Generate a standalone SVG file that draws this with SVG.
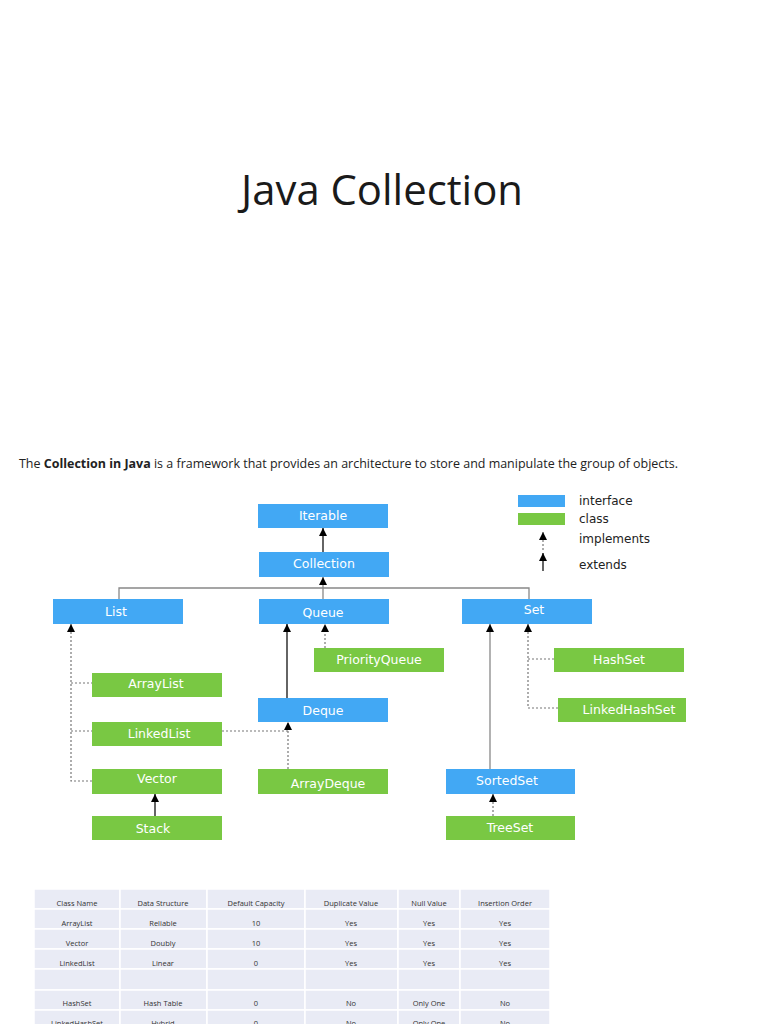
<svg xmlns="http://www.w3.org/2000/svg" width="768" height="1024" viewBox="0 0 768 1024">
<defs>
<style>
.iface{fill:#42A8F4;}
.cls{fill:#79C843;}
.nt{font-family:"DejaVu Sans",Verdana,sans-serif;font-size:12.5px;fill:#ffffff;text-anchor:middle;}
.lt{font-family:"DejaVu Sans",Verdana,sans-serif;font-size:12px;fill:#222222;}
.solid{stroke:#111111;stroke-width:1.3;fill:none;}
.gray{stroke:#888888;stroke-width:1.3;fill:none;}
.dash{stroke:#777777;stroke-width:1.2;stroke-dasharray:2,2;fill:none;}
.td{font-family:"Open Sans","Liberation Sans",sans-serif;font-size:7.5px;fill:#333333;text-anchor:middle;}
.cell{fill:#E9EBF5;stroke:#ffffff;stroke-width:1.5;}
</style>
<marker id="ahu" viewBox="0 0 10 10" refX="5" refY="0" markerWidth="8" markerHeight="8" markerUnits="userSpaceOnUse" orient="0">
<path d="M0,10 L5,0 L10,10 Z" fill="#000000"/>
</marker>
</defs>
<rect width="768" height="1024" fill="#ffffff"/>
<text x="382" y="205" font-family="'Open Sans','Liberation Sans',sans-serif" font-size="42" fill="#1a1a1a" text-anchor="middle" textLength="282" lengthAdjust="spacingAndGlyphs">Java Collection</text>
<text x="19" y="468" font-family="'Open Sans','Liberation Sans',sans-serif" font-size="13" fill="#222222" textLength="659" lengthAdjust="spacingAndGlyphs">The <tspan font-weight="bold">Collection in Java</tspan> is a framework that provides an architecture to store and manipulate the group of objects.</text>

<g id="legend">
<rect class="iface" x="518" y="495" width="47" height="12"/>
<rect class="cls" x="518" y="513" width="47" height="12"/>
<text class="lt" x="579" y="505">interface</text>
<text class="lt" x="579" y="523">class</text>
<text class="lt" x="579" y="543">implements</text>
<text class="lt" x="579" y="569">extends</text>
<line class="dash" x1="543" y1="550" x2="543" y2="532" stroke="#333" marker-end="url(#ahu)"/>
<line class="solid" x1="543" y1="571" x2="543" y2="553" marker-end="url(#ahu)"/>
</g>

<g id="connectors">
<line class="solid" x1="323" y1="552" x2="323" y2="528" marker-end="url(#ahu)"/>
<polyline class="gray" points="119,599 119,588 529,588 529,599"/>
<line class="gray" x1="323" y1="599" x2="323" y2="577" marker-end="url(#ahu)"/>
<line class="solid" x1="287" y1="698" x2="287" y2="624" marker-end="url(#ahu)"/>
<line class="dash" x1="325" y1="648" x2="325" y2="624" marker-end="url(#ahu)"/>
<polyline class="dash" points="92,781 71,781 71,624" marker-end="url(#ahu)"/>
<line class="dash" x1="71" y1="683" x2="92" y2="683"/>
<line class="dash" x1="71" y1="731" x2="92" y2="731"/>
<line class="dash" x1="222" y1="731" x2="288" y2="731"/>
<line class="dash" x1="288" y1="769" x2="288" y2="722" marker-end="url(#ahu)"/>
<line class="solid" x1="155" y1="816" x2="155" y2="794" marker-end="url(#ahu)"/>
<line class="gray" x1="490" y1="769" x2="490" y2="624" marker-end="url(#ahu)"/>
<polyline class="dash" points="558,708 528,708 528,624" marker-end="url(#ahu)"/>
<line class="dash" x1="528" y1="659" x2="554" y2="659"/>
<line class="dash" x1="493" y1="816" x2="493" y2="794" stroke="#333" marker-end="url(#ahu)"/>
</g>

<g id="iterable"><rect class="iface" x="258" y="504" width="130" height="24"/><text class="nt" x="323" y="520">Iterable</text></g>
<g id="collection"><rect class="iface" x="259" y="552" width="130" height="25"/><text class="nt" x="324" y="568">Collection</text></g>
<g id="list"><rect class="iface" x="53" y="599" width="130" height="25"/><text class="nt" x="116" y="616">List</text></g>
<g id="queue"><rect class="iface" x="259" y="599" width="130" height="25"/><text class="nt" x="323" y="617">Queue</text></g>
<g id="set"><rect class="iface" x="462" y="599" width="130" height="25"/><text class="nt" x="534" y="614">Set</text></g>
<g id="priorityqueue"><rect class="cls" x="314" y="648" width="130" height="24"/><text class="nt" x="379" y="664">PriorityQueue</text></g>
<g id="hashset"><rect class="cls" x="554" y="648" width="130" height="24"/><text class="nt" x="619" y="664">HashSet</text></g>
<g id="arraylist"><rect class="cls" x="92" y="673" width="130" height="24"/><text class="nt" x="156" y="688">ArrayList</text></g>
<g id="deque"><rect class="iface" x="258" y="698" width="130" height="24"/><text class="nt" x="323" y="715">Deque</text></g>
<g id="linkedhashset"><rect class="cls" x="558" y="698" width="128" height="24"/><text class="nt" x="629" y="714">LinkedHashSet</text></g>
<g id="linkedlist"><rect class="cls" x="92" y="722" width="130" height="24"/><text class="nt" x="159" y="738">LinkedList</text></g>
<g id="vector"><rect class="cls" x="92" y="769" width="130" height="25"/><text class="nt" x="157" y="783">Vector</text></g>
<g id="arraydeque"><rect class="cls" x="258" y="769" width="130" height="25"/><text class="nt" x="328" y="788">ArrayDeque</text></g>
<g id="sortedset"><rect class="iface" x="446" y="769" width="129" height="25"/><text class="nt" x="507" y="785">SortedSet</text></g>
<g id="stack"><rect class="cls" x="92" y="816" width="130" height="24"/><text class="nt" x="153" y="833">Stack</text></g>
<g id="treeset"><rect class="cls" x="446" y="816" width="129" height="24"/><text class="nt" x="510" y="832">TreeSet</text></g>

<g id="table">
<g>
<rect class="cell" x="34" y="889" width="86" height="20"/><rect class="cell" x="120" y="889" width="87" height="20"/><rect class="cell" x="207" y="889" width="98" height="20"/><rect class="cell" x="305" y="889" width="93" height="20"/><rect class="cell" x="398" y="889" width="62" height="20"/><rect class="cell" x="460" y="889" width="90" height="20"/>
<rect class="cell" x="34" y="909" width="86" height="20"/><rect class="cell" x="120" y="909" width="87" height="20"/><rect class="cell" x="207" y="909" width="98" height="20"/><rect class="cell" x="305" y="909" width="93" height="20"/><rect class="cell" x="398" y="909" width="62" height="20"/><rect class="cell" x="460" y="909" width="90" height="20"/>
<rect class="cell" x="34" y="929" width="86" height="20"/><rect class="cell" x="120" y="929" width="87" height="20"/><rect class="cell" x="207" y="929" width="98" height="20"/><rect class="cell" x="305" y="929" width="93" height="20"/><rect class="cell" x="398" y="929" width="62" height="20"/><rect class="cell" x="460" y="929" width="90" height="20"/>
<rect class="cell" x="34" y="949" width="86" height="20"/><rect class="cell" x="120" y="949" width="87" height="20"/><rect class="cell" x="207" y="949" width="98" height="20"/><rect class="cell" x="305" y="949" width="93" height="20"/><rect class="cell" x="398" y="949" width="62" height="20"/><rect class="cell" x="460" y="949" width="90" height="20"/>
<rect class="cell" x="34" y="969" width="86" height="21"/><rect class="cell" x="120" y="969" width="87" height="21"/><rect class="cell" x="207" y="969" width="98" height="21"/><rect class="cell" x="305" y="969" width="93" height="21"/><rect class="cell" x="398" y="969" width="62" height="21"/><rect class="cell" x="460" y="969" width="90" height="21"/>
<rect class="cell" x="34" y="990" width="86" height="20"/><rect class="cell" x="120" y="990" width="87" height="20"/><rect class="cell" x="207" y="990" width="98" height="20"/><rect class="cell" x="305" y="990" width="93" height="20"/><rect class="cell" x="398" y="990" width="62" height="20"/><rect class="cell" x="460" y="990" width="90" height="20"/>
<rect class="cell" x="34" y="1010" width="86" height="20"/><rect class="cell" x="120" y="1010" width="87" height="20"/><rect class="cell" x="207" y="1010" width="98" height="20"/><rect class="cell" x="305" y="1010" width="93" height="20"/><rect class="cell" x="398" y="1010" width="62" height="20"/><rect class="cell" x="460" y="1010" width="90" height="20"/>
</g>
<text class="td" x="77" y="906">Class Name</text><text class="td" x="163" y="906">Data Structure</text><text class="td" x="256" y="906">Default Capacity</text><text class="td" x="351" y="906">Duplicate Value</text><text class="td" x="429" y="906">Null Value</text><text class="td" x="505" y="906">Insertion Order</text>
<text class="td" x="77" y="926">ArrayList</text><text class="td" x="163" y="926">Reliable</text><text class="td" x="256" y="926">10</text><text class="td" x="351" y="926">Yes</text><text class="td" x="429" y="926">Yes</text><text class="td" x="505" y="926">Yes</text>
<text class="td" x="77" y="946">Vector</text><text class="td" x="163" y="946">Doubly</text><text class="td" x="256" y="946">10</text><text class="td" x="351" y="946">Yes</text><text class="td" x="429" y="946">Yes</text><text class="td" x="505" y="946">Yes</text>
<text class="td" x="77" y="966">LinkedList</text><text class="td" x="163" y="966">Linear</text><text class="td" x="256" y="966">0</text><text class="td" x="351" y="966">Yes</text><text class="td" x="429" y="966">Yes</text><text class="td" x="505" y="966">Yes</text>
<text class="td" x="77" y="1006">HashSet</text><text class="td" x="163" y="1006">Hash Table</text><text class="td" x="256" y="1006">0</text><text class="td" x="351" y="1006">No</text><text class="td" x="429" y="1006">Only One</text><text class="td" x="505" y="1006">No</text>
<text class="td" x="77" y="1026">LinkedHashSet</text><text class="td" x="163" y="1026">Hybrid</text><text class="td" x="256" y="1026">0</text><text class="td" x="351" y="1026">No</text><text class="td" x="429" y="1026">Only One</text><text class="td" x="505" y="1026">No</text>
</g>
</svg>
